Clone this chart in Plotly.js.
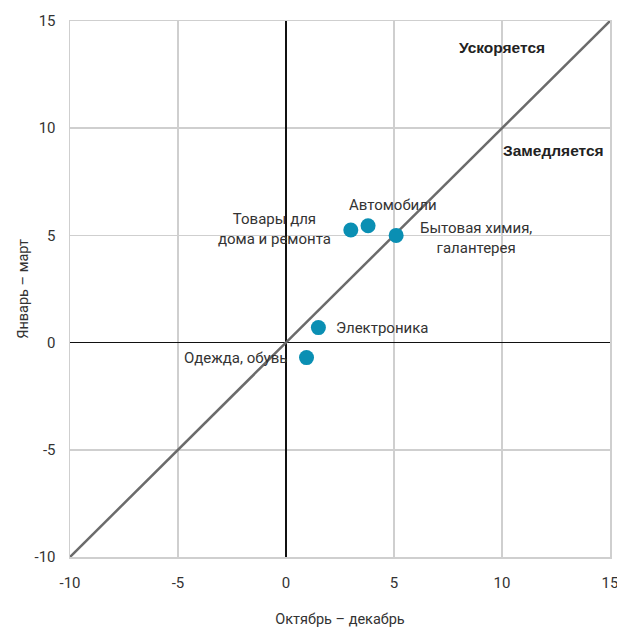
<!DOCTYPE html>
<html><head><meta charset="utf-8">
<script src="https://cdn.plot.ly/plotly-3.0.1.min.js"></script>
<style>body{margin:0;background:#fff}#c{width:617px;height:628px}</style>
</head><body><div id="c"></div>
<script>
const categories = ["Электроника", "Одежда, обувь", "Товары для<br>дома и ремонта", "Автомобили", "Бытовая химия,<br>галантерея"];
const octDec = [1.5, 0.95, 3.0, 3.8, 5.1];
const janMar = [0.7, -0.7, 5.25, 5.45, 5.0];
const diagX = [-10, 15];
const diagY = [-10, 15];
const tickVals = [-10, -5, 0, 5, 10, 15];
const tickText = ["-10", "-5", "0", "5", "10", "15"];
const regionLabels = ["Ускоряется", "Замедляется"];
const regionX = [10, 12.4];
const regionY = [13.75, 8.95];

const labelShift = [[64, 0], [-71, 0], [-76, 1], [25, 21], [80, -3]];

const annotations = categories.map((c, i) => ({
  x: octDec[i], y: janMar[i], xref: 'x', yref: 'y', text: c, showarrow: false,
  xshift: labelShift[i][0], yshift: labelShift[i][1], align: 'center',
  font: {family: 'Roboto, sans-serif', size: 15, color: '#333'}
})).concat(regionLabels.map((t, i) => ({
  x: regionX[i], y: regionY[i], xref: 'x', yref: 'y', text: '<b>' + t + '</b>', showarrow: false,
  font: {family: 'Liberation Sans, Arial, sans-serif', size: 15.5, color: '#222'}
})));

const traces = [
  {x: diagX, y: diagY, mode: 'lines', line: {color: '#6b6b6b', width: 2.5}, hoverinfo: 'skip'},
  {x: octDec, y: janMar, mode: 'markers', marker: {color: '#0a8fb3', size: 15}}
];

const axisBase = {
  range: [-10, 15], tickvals: tickVals, ticktext: tickText, showgrid: true, gridcolor: '#cfcfcf', gridwidth: 1.5,
  zeroline: true, zerolinecolor: '#111', zerolinewidth: 1.5,
  showline: true, mirror: true, linecolor: '#cfcfcf', linewidth: 1.5,
  ticklabeloverflow: 'allow', automargin: false,
  tickfont: {family: 'Roboto, sans-serif', size: 15, color: '#333'}, ticks: ''
};

const layout = {
  width: 617, height: 628, showlegend: false,
  paper_bgcolor: '#fff', plot_bgcolor: '#fff',
  margin: {l: 70, r: 7, t: 21, b: 71},
  xaxis: Object.assign({}, axisBase, {ticklabelstandoff: 11, title: {text: 'Октябрь – декабрь', standoff: 28, font: {family: 'Roboto, sans-serif', size: 14.5, color: '#333'}}}),
  yaxis: Object.assign({}, axisBase, {ticklabelstandoff: 10, title: {text: 'Январь – март', standoff: 2, font: {family: 'Roboto, sans-serif', size: 14.5, color: '#333'}}}),
  annotations: annotations
};

Plotly.newPlot('c', traces, layout, {displayModeBar: false, staticPlot: true});
</script></body></html>
